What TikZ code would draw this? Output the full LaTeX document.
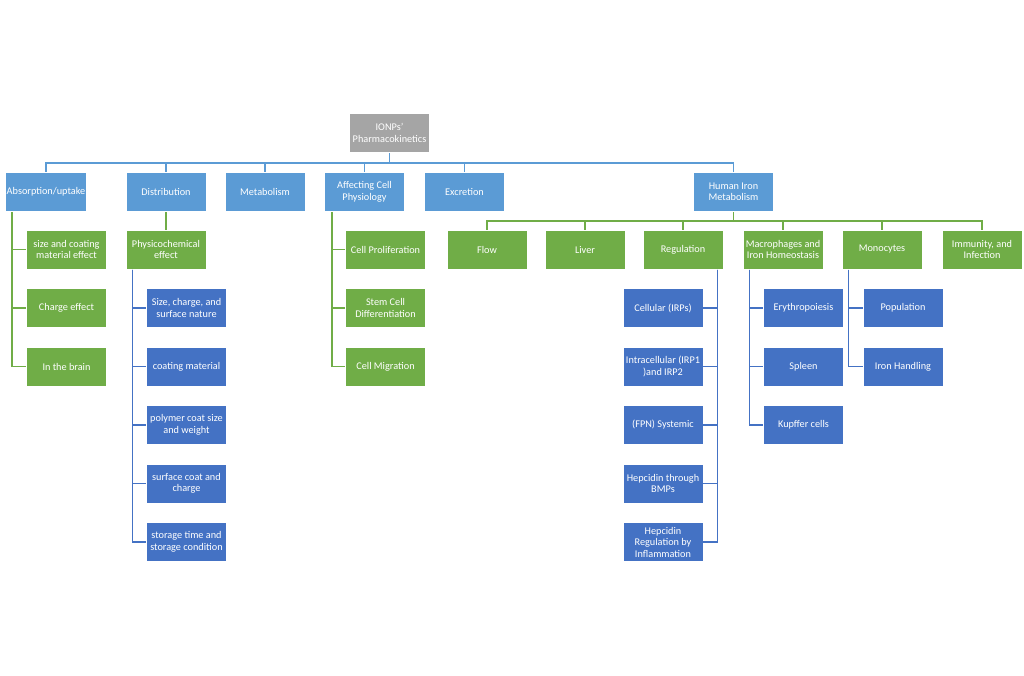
\documentclass[tikz,border=0pt]{standalone}
\usepackage{fontspec}
\setmainfont{Carlito}
\usepackage{xcolor}
\usetikzlibrary{positioning,calc}

\definecolor{kgray}{HTML}{A5A5A5}
\definecolor{kblue}{HTML}{5B9BD5}
\definecolor{kgreen}{HTML}{70AD47}
\definecolor{kdark}{HTML}{4472C4}

\tikzset{
  box/.style={draw=white, line width=0.5pt, text=white, align=center,
    minimum width=60pt, minimum height=29.5pt, inner sep=1pt,
    font=\fontsize{7.7}{8.6}\selectfont},
  rootbox/.style={box, fill=kgray},
  topbox/.style={box, fill=kblue},
  greenbox/.style={box, fill=kgreen},
  darkbox/.style={box, fill=kdark},
  blueline/.style={draw=kblue, line width=1.1pt},
  greenline/.style={draw=kgreen, line width=1.1pt},
  darkline/.style={draw=kdark, line width=1.1pt}
}

\begin{document}
\begin{tikzpicture}[x=0.75pt, y=-0.75pt]
  \useasboundingbox[fill=white] (0,0) rectangle (1024,675);

  % root
  \node[rootbox] (root) at (389.5,133) {IONPs'\\Pharmacokinetics};

  % first level
  \node[topbox] (abs)  at (46,192)    {Absorption/uptake};
  \node[topbox] (dist) at (166,192)   {Distribution};
  \node[topbox] (meta) at (265,192)   {Metabolism};
  \node[topbox] (aff)  at (364.5,192) {Affecting Cell\\Physiology};
  \node[topbox] (excr) at (464.5,192) {Excretion};
  \node[topbox] (hum)  at (733.5,192) {Human Iron\\Metabolism};

  % absorption
  \node[greenbox] (size)   at (66.5,249.5) {size and coating\\material effect};
  \node[greenbox] (charge) at (66.5,308)   {Charge effect};
  \node[greenbox] (brain)  at (66.5,366.5) {In the brain};

  % distribution
  \node[greenbox] (phys) at (166,249.5) {Physicochemical\\effect};
  \node[darkbox] (surf)    at (186.5,308)   {Size, charge, and\\surface nature};
  \node[darkbox] (coat)    at (186.5,366.5) {coating material};
  \node[darkbox] (poly)    at (186.5,425)   {polymer coat size\\and weight};
  \node[darkbox] (scharge) at (186.5,483.5) {surface coat and\\charge};
  \node[darkbox] (store)   at (186.5,542)   {storage time and\\storage condition};

  % cell physiology
  \node[greenbox] (prolif) at (385.5,249.5) {Cell Proliferation};
  \node[greenbox] (stem)   at (385.5,308)   {Stem Cell\\Differentiation};
  \node[greenbox] (migr)   at (385.5,366.5) {Cell Migration};

  % human iron metabolism
  \node[greenbox] (flow)  at (487,249.5) {Flow};
  \node[greenbox] (liver) at (585,249.5) {Liver};
  \node[greenbox] (reg)   at (683,249.5) {Regulation};
  \node[greenbox] (macro) at (783,249.5) {Macrophages and\\Iron Homeostasis};
  \node[greenbox] (mono)  at (882,249.5) {Monocytes};
  \node[greenbox] (immun) at (982,249.5) {Immunity, and\\Infection};

  \node[darkbox] (cell)   at (663,308)   {Cellular (IRPs)};
  \node[darkbox] (intra)  at (663,366.5) {Intracellular (IRP1\\)and IRP2};
  \node[darkbox] (fpn)    at (663,425)   {(FPN) Systemic};
  \node[darkbox] (bmp)    at (663,483.5) {Hepcidin through\\BMPs};
  \node[darkbox] (inflam) at (663,542)   {Hepcidin\\Regulation by\\Inflammation};

  \node[darkbox] (ery)  at (803.5,308)   {Erythropoiesis};
  \node[darkbox] (spl)  at (803.5,366.5) {Spleen};
  \node[darkbox] (kup)  at (803.5,425)   {Kupffer cells};

  \node[darkbox] (pop)  at (903,308)   {Population};
  \node[darkbox] (ironh) at (903,366.5) {Iron Handling};

  % connectors
  \coordinate (bus) at (0,163);
  \coordinate (gbus) at (0,221);
  \foreach \n in {abs,dist,meta,aff,excr,hum}
    \draw[blueline] (root.south) -- (root.south |- bus) -| (\n.north);
  \foreach \n in {flow,liver,reg,macro,mono,immun}
    \draw[greenline] (hum.south) -- (hum.south |- gbus) -| (\n.north);

  \foreach \n in {size,charge,brain}
    \draw[greenline] (abs.south west) ++(7,0) |- (\n.west);
  \draw[greenline] (dist.south) -- (phys.north);
  \foreach \n in {surf,coat,poly,scharge,store}
    \draw[darkline] (phys.south west) ++(7,0) |- (\n.west);
  \foreach \n in {prolif,stem,migr}
    \draw[greenline] (aff.south west) ++(8,0) |- (\n.west);

  \foreach \n in {cell,intra,fpn,bmp,inflam}
    \draw[darkline] (reg.south east) ++(-6,0) |- (\n.east);
  \foreach \n in {ery,spl,kup}
    \draw[darkline] (macro.south west) ++(7,0) |- (\n.west);
  \foreach \n in {pop,ironh}
    \draw[darkline] (mono.south west) ++(7,0) |- (\n.west);
\end{tikzpicture}
\end{document}
